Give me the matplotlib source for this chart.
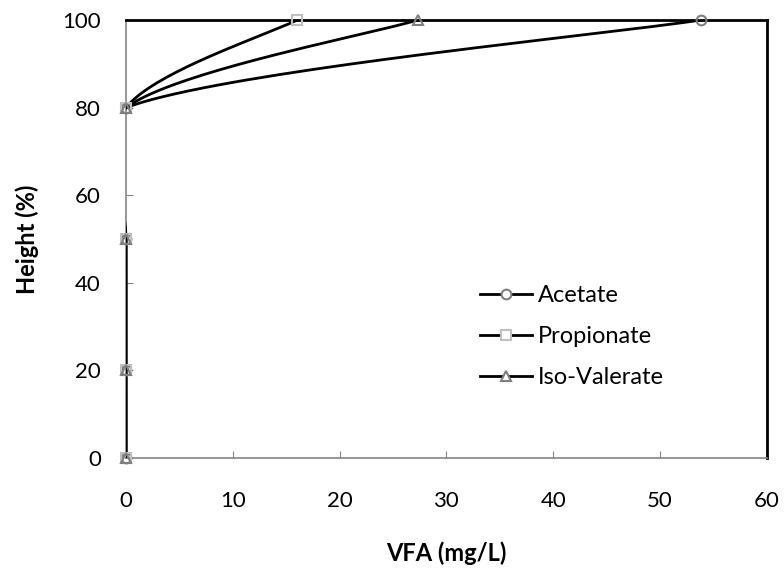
import matplotlib
matplotlib.use("Agg")
import matplotlib.pyplot as plt
import numpy as np

plt.rcParams["font.family"] = ["Lato", "DejaVu Sans"]

height = [0, 20, 50, 80, 100]
acetate = [0, 0, 0, 0, 53.8]
propionate = [0, 0, 0, 0, 16.0]
iso_valerate = [0, 0, 0, 0, 27.3]

series = [
    ("Acetate", acetate, "o", "#7f7f7f"),
    ("Propionate", propionate, "s", "#bfbfbf"),
    ("Iso-Valerate", iso_valerate, "^", "#7f7f7f"),
]


def smooth(xs, ys, n=40):
    # excel-like smoothed line (catmull-rom bezier)
    p = np.column_stack([xs, ys]).astype(float)
    p = np.vstack([p[0], p, p[-1]])
    out = []
    for i in range(1, len(p) - 2):
        p0, p1, p2, p3 = p[i - 1], p[i], p[i + 1], p[i + 2]
        c1 = p1 + (p2 - p0) / 6
        c2 = p2 - (p3 - p1) / 6
        t = np.linspace(0, 1, n)[:, None]
        seg = ((1 - t) ** 3) * p1 + 3 * ((1 - t) ** 2) * t * c1 + 3 * (1 - t) * t ** 2 * c2 + t ** 3 * p2
        out.append(seg)
    out = np.vstack(out)
    return out[:, 0], out[:, 1]


fig = plt.figure(figsize=(7.84, 5.74), dpi=100)
ax = fig.add_axes([0.1607, 0.2021, 0.978 - 0.1607, 0.965 - 0.2021])

for name, xs, mk, col in series:
    sx, sy = smooth(xs, height)
    ax.plot(sx, sy, color="black", lw=2, zorder=3)
    ax.plot(xs, height, ls="none", marker=mk, ms=7, mfc="none", mec=col, mew=1.5, zorder=4, clip_on=False)

handles = []
for name, xs, mk, col in series:
    h, = ax.plot([], [], color="black", lw=2, marker=mk, ms=7, mfc="white", mec=col, mew=1.5, label=name)
    handles.append(h)

fig.legend(handles=handles, loc="upper left", bbox_to_anchor=(0.612, 0.503), frameon=False,
           fontsize=17, handlelength=2.2, handletextpad=0.25, labelspacing=0.85,
           borderaxespad=0, borderpad=0)

ax.set_xlim(0, 60)
ax.set_ylim(0, 100)
ax.set_xticks(range(0, 61, 10))
ax.set_yticks(range(0, 101, 20))
ax.tick_params(direction="in", length=5, color="#868686", labelsize=16)
ax.tick_params(axis="x", pad=24)
ax.tick_params(axis="y", pad=18)
for s in ["left", "bottom"]:
    ax.spines[s].set_color("#868686")
    ax.spines[s].set_linewidth(1.2)
for s in ["top", "right"]:
    ax.spines[s].set_color("black")
    ax.spines[s].set_linewidth(2)

ax.set_xlabel("VFA (mg/L)", fontsize=17, fontweight="bold", labelpad=22)
ax.set_ylabel("Height (%)", fontsize=17, fontweight="bold", labelpad=17)

fig.savefig("out.png", dpi=100)
